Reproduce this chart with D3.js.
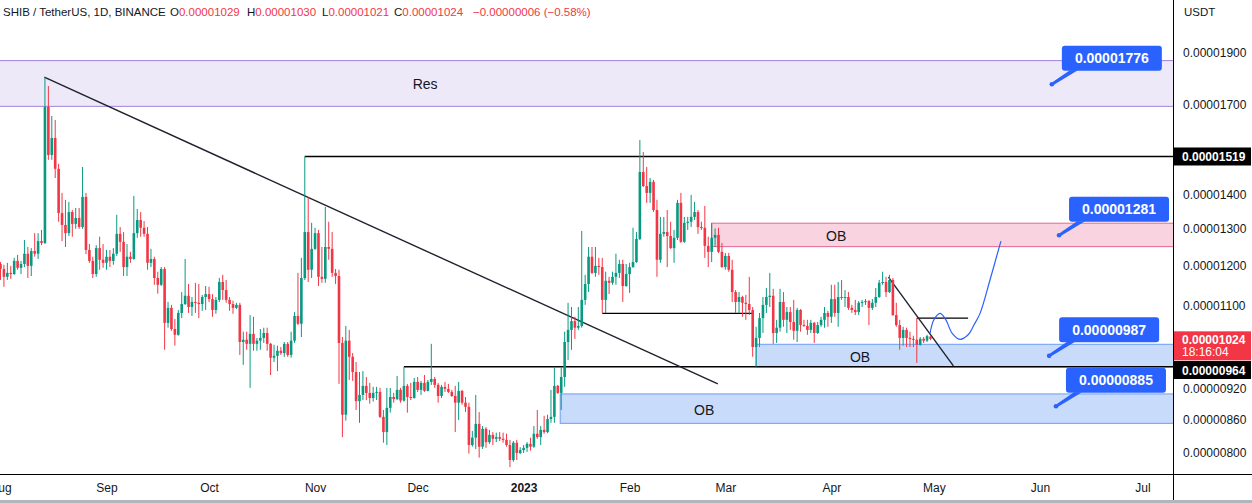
<!DOCTYPE html>
<html>
<head>
<meta charset="utf-8">
<script src="https://cdn.jsdelivr.net/npm/d3@7/dist/d3.min.js"></script>
<style>
html,body{margin:0;padding:0;background:#ffffff;overflow:hidden;}
svg{display:block;}
text{font-family:"Liberation Sans",Arial,sans-serif;}
</style>
</head>
<body>
<svg id="chart" width="1252" height="503"></svg>
<script>
// ---------------- DATA (prices in units of 0.00000001 USDT) ----------------
const UNIT = 1e-8;
const firstDay = "2022-08-01";
const openP = [
1204,1191,1171,1181,1178,1212,1194,1204,1231,1199,
1238,1231,1265,1260,1691,1524,1581,1479,1344,1310,
1287,1347,1313,1330,1304,1392,1241,1212,1178,1246,
1215,1207,1223,1212,1231,1285,1263,1196,1223,1217,
1287,1324,1302,1285,1207,1217,1168,1151,1191,1060,
1095,1046,1033,1083,1104,1124,1097,1109,1107,1104,
1121,1128,1116,1090,1114,1158,1138,1114,1104,1095,
1102,1017,1022,1013,1035,1013,1020,1026,1037,1013,
983,987,998,993,1013,989,1020,1076,1058,1168,
1290,1189,1244,1287,1171,1166,1249,1244,1181,1173,
1015,869,1020,985,953,895,907,925,911,901,
911,913,865,837,882,903,899,917,896,925,
903,901,933,917,931,915,933,939,927,905,
923,919,913,905,892,915,892,884,814,827,
852,811,843,819,832,825,828,825,823,814,
788,818,800,805,809,816,811,834,828,841,
837,861,865,925,911,943,1017,1044,1064,1049,
1053,1114,1153,1223,1181,1199,1196,1114,1161,1156,
1171,1181,1204,1148,1178,1196,1209,1271,1469,1425,
1404,1438,1353,1215,1285,1290,1279,1246,1274,1374,
1263,1316,1319,1333,1347,1304,1302,1252,1236,1274,
1282,1236,1196,1225,1189,1133,1109,1121,1107,1104,
1090,1006,1026,1071,1102,1121,1124,1037,1049,1109,
1067,1085,1062,1042,1090,1055,1053,1044,1060,1037,
1055,1067,1083,1074,1116,1083,1121,1119,1121,1095,
1090,1085,1107,1109,1111,1095,1107,1121,1156,1158,
1133,1163,1078,1055,1026,1044,1026,1024,1022,1011,
1024,1020,1029];
const highP = [
1209,1202,1207,1199,1220,1228,1212,1268,1249,1246,
1287,1287,1296,1804,1769,1658,1644,1495,1404,1383,
1377,1353,1359,1359,1485,1404,1257,1223,1254,1277,
1257,1241,1241,1246,1339,1304,1290,1257,1236,1395,
1356,1347,1321,1304,1244,1223,1184,1196,1196,1109,
1102,1069,1090,1133,1217,1153,1121,1156,1153,1126,
1148,1146,1128,1121,1168,1176,1163,1121,1112,1107,
1107,1040,1040,1078,1074,1026,1046,1049,1049,1015,
1011,1009,1006,1017,1017,1040,1085,1181,1220,1519,
1392,1316,1302,1296,1249,1362,1319,1290,1191,1189,
1028,1053,1044,993,974,953,955,943,931,923,
923,921,878,921,921,911,945,921,964,929,
931,941,943,935,947,937,1013,943,931,927,
933,929,917,925,933,917,903,892,839,907,
874,848,846,841,837,836,837,836,834,823,
821,823,810,814,819,827,848,878,848,867,
869,917,964,927,962,1040,1107,1097,1074,1097,
1293,1176,1249,1249,1249,1220,1220,1184,1171,1184,
1231,1215,1215,1204,1207,1302,1290,1574,1534,1485,
1450,1444,1383,1333,1333,1353,1319,1296,1383,1404,
1333,1333,1398,1377,1353,1319,1365,1277,1315,1300,
1302,1260,1233,1233,1215,1138,1133,1124,1126,1171,
1097,1051,1083,1121,1143,1181,1141,1067,1141,1133,
1097,1097,1114,1095,1092,1067,1067,1067,1062,1062,
1074,1097,1088,1151,1151,1158,1163,1138,1133,1102,
1114,1111,1114,1116,1114,1116,1143,1163,1184,1171,
1176,1168,1107,1067,1051,1049,1040,1031,1071,1028,
1028,1033,1030];
const lowP = [
1163,1146,1163,1166,1176,1189,1178,1196,1168,1173,
1223,1217,1254,1257,1508,1508,1450,1319,1265,1249,
1279,1277,1299,1299,1299,1230,1207,1168,1171,1189,
1194,1189,1196,1202,1225,1236,1173,1173,1207,1215,
1274,1277,1277,1189,1196,1151,1129,1148,1000,1049,
1042,1009,1031,1071,1102,1083,1076,1083,1071,1088,
1090,1109,1074,1081,1109,1114,1107,1088,1081,1092,
989,968,1000,921,998,998,1000,1015,998,947,
974,955,989,985,985,983,1015,1055,1028,1163,
1158,1168,1241,1148,1156,1156,1215,1171,1153,929,
828,858,937,935,878,854,897,897,890,894,
897,863,818,814,873,892,897,892,894,873,
897,900,913,907,913,914,927,921,892,901,
913,911,903,837,859,888,874,799,811,807,
792,807,809,816,814,819,821,818,811,776,
785,788,798,800,802,804,809,825,814,834,
835,854,854,909,878,923,978,1000,1024,1044,
1049,1102,1133,1178,1171,1176,1083,1083,1128,1151,
1151,1168,1109,1146,1131,1194,1207,1268,1422,1374,
1374,1347,1171,1207,1277,1196,1244,1207,1268,1260,
1260,1296,1304,1324,1285,1296,1220,1196,1209,1249,
1233,1194,1189,1184,1109,1083,1083,1074,1067,1078,
985,964,1006,1037,1083,1097,1013,1015,1040,1051,
1037,1044,1022,1017,1040,1051,1033,1037,1015,1035,
1051,1049,1051,1060,1074,1051,1114,1097,1090,1083,
1078,1078,1097,1102,1055,1090,1097,1119,1151,1121,
1131,1076,1051,1000,1009,1006,1006,1006,972,1009,
1015,1017,1021];
const closeP = [
1191,1171,1181,1178,1212,1194,1204,1231,1199,1238,
1231,1265,1260,1691,1524,1581,1479,1344,1310,1287,
1347,1313,1330,1304,1392,1241,1212,1178,1246,1215,
1207,1223,1212,1231,1285,1263,1196,1223,1217,1287,
1324,1302,1285,1207,1217,1168,1151,1191,1060,1095,
1046,1033,1083,1104,1124,1097,1109,1107,1104,1121,
1128,1116,1090,1114,1158,1138,1114,1104,1095,1102,
1017,1022,1013,1035,1013,1020,1026,1037,1013,983,
987,998,993,1013,989,1020,1076,1058,1168,1290,
1189,1244,1287,1171,1166,1249,1244,1181,1173,1015,
869,1020,985,953,895,907,925,911,901,911,
913,865,837,882,903,899,917,896,925,903,
901,933,917,931,915,933,939,927,905,923,
919,913,905,892,915,892,884,814,827,852,
811,843,819,832,825,828,825,823,814,788,
818,800,805,809,816,811,834,828,841,837,
861,865,925,911,943,1017,1044,1064,1049,1053,
1114,1153,1223,1181,1199,1196,1114,1161,1156,1171,
1181,1204,1148,1178,1196,1209,1271,1469,1425,1404,
1438,1353,1215,1285,1290,1279,1246,1274,1374,1263,
1316,1319,1333,1347,1304,1302,1252,1236,1274,1282,
1236,1196,1225,1189,1133,1109,1121,1107,1104,1090,
1006,1026,1071,1102,1121,1124,1037,1049,1109,1067,
1085,1062,1042,1090,1055,1053,1044,1060,1037,1055,
1067,1083,1074,1116,1083,1121,1119,1121,1095,1090,
1085,1107,1109,1111,1095,1107,1121,1156,1158,1133,
1163,1078,1055,1026,1044,1026,1024,1022,1011,1024,
1020,1030,1024];

const priceTicks = [1900, 1700, 1400, 1300, 1200, 1100, 920, 860, 800];
const monthTicks = ["2022-08-01","2022-09-01","2022-10-01","2022-11-01","2022-12-01","2023-01-01",
                    "2023-02-01","2023-03-01","2023-04-01","2023-05-01","2023-06-01","2023-07-01"];
const monthLabels = ["Aug","Sep","Oct","Nov","Dec","2023","Feb","Mar","Apr","May","Jun","Jul"];

// drawings: day offsets from firstDay, prices in the same unit
const zoneNames = ["Res", "OB", "OB", "OB"];
const zoneStartDay = [-5, 208, 221, 163.7];
const zoneLow = [1693, 1250, 964, 853];
const zoneHigh = [1869, 1315, 1012, 909];
const zoneLabelDay = [124.2, 244.4, 251.4, 205.8];

const levelPrice = [1519, 964, 1082, 1071];
const levelFromDay = [89, 118, 176, 268];
const levelToDay = [400, 400, 220, 283];

const trendStart = [[12.8, 1803], [259.7, 1170]];
const trendEnd = [[209.8, 929], [278.7, 966]];

const projDay = [271.9, 273.0, 274.8, 276.5, 278.3, 280.6, 283.0, 284.7, 286.5, 289.4, 292.6];
const projPrice = [1037, 1067, 1082, 1067, 1037, 1023, 1033, 1055, 1082, 1163, 1265];

const calloutPrice = [1776, 1281, 987, 885];
const calloutDay = [307.5, 309.6, 306.7, 308.7];

const scaleMarkers = [1519, 964];
const countdown = "18:16:04";
const title = "SHIB / TetherUS, 1D, BINANCE";

// ---------------- CHART ----------------
const W = 1252, H = 503, plotW = 1173, plotH = 474;
const GREEN = "#089981", RED = "#f23645", INK = "#131722", BLUE = "#2962ff";
const DAY = 864e5;
const t0 = new Date(firstDay + "T00:00:00Z").getTime();
const dayDate = d => new Date(t0 + d * DAY);
const x = d3.scaleUtc().domain([dayDate(-0.146), dayDate(342.93)]).range([0, plotW]);
const y = d3.scaleLog().domain([800, 1900]).range([453, 53]);
const X = d => x(dayDate(d));
const fmt = v => (v * UNIT).toFixed(8);

const svg = d3.select("#chart");
svg.append("rect").attr("width", W).attr("height", H).attr("fill", "#fff");
svg.append("defs").append("clipPath").attr("id", "clip")
  .append("rect").attr("width", plotW).attr("height", plotH);
const plot = svg.append("g").attr("clip-path", "url(#clip)");

// zones
const zoneFill = ["#ede9f8", "#f9d3e0", "#c9dbfa", "#c9dbfa"];
const zoneStroke = ["#a083dc", "#e06892", "#6d9ef4", "#6d9ef4"];
const zi = d3.range(zoneNames.length);
plot.selectAll("rect.zone").data(zi).join("rect").attr("class", "zone")
  .attr("x", i => X(zoneStartDay[i])).attr("y", i => y(zoneHigh[i]))
  .attr("width", i => plotW + 10 - X(zoneStartDay[i]))
  .attr("height", i => y(zoneLow[i]) - y(zoneHigh[i]))
  .attr("fill", i => zoneFill[i]).attr("stroke", i => zoneStroke[i]).attr("stroke-width", 1);
plot.selectAll("text.zone").data(zi).join("text").attr("class", "zone")
  .attr("x", i => X(zoneLabelDay[i])).attr("y", i => (y(zoneLow[i]) + y(zoneHigh[i])) / 2 + 6)
  .attr("text-anchor", "middle").attr("font-size", 14).attr("fill", INK)
  .text(i => zoneNames[i]);

// horizontal levels
plot.selectAll("line.level").data(d3.range(levelPrice.length)).join("line").attr("class", "level")
  .attr("x1", i => X(levelFromDay[i])).attr("x2", i => X(levelToDay[i]))
  .attr("y1", i => y(levelPrice[i])).attr("y2", i => y(levelPrice[i]))
  .attr("stroke", "#000").attr("stroke-width", 1.4);

// trend lines
plot.selectAll("line.trend").data(d3.range(trendStart.length)).join("line").attr("class", "trend")
  .attr("x1", i => X(trendStart[i][0])).attr("y1", i => y(trendStart[i][1]))
  .attr("x2", i => X(trendEnd[i][0])).attr("y2", i => y(trendEnd[i][1]))
  .attr("stroke", "#1e222d").attr("stroke-width", 1.4);

// candles
const idx = d3.range(closeP.length);
const col = i => closeP[i] >= openP[i] ? GREEN : RED;
plot.selectAll("line.wick").data(idx).join("line").attr("class", "wick")
  .attr("x1", i => X(i)).attr("x2", i => X(i))
  .attr("y1", i => y(highP[i])).attr("y2", i => y(lowP[i]))
  .attr("stroke", col).attr("stroke-width", 1);
plot.selectAll("rect.body").data(idx).join("rect").attr("class", "body")
  .attr("x", i => X(i) - 1.3).attr("width", 2.6)
  .attr("y", i => y(Math.max(openP[i], closeP[i])))
  .attr("height", i => Math.max(1, Math.abs(y(openP[i]) - y(closeP[i]))))
  .attr("fill", col);

// projected path
plot.append("path").datum(d3.range(projDay.length))
  .attr("d", d3.line().x(i => X(projDay[i])).y(i => y(projPrice[i])).curve(d3.curveCatmullRom.alpha(0.5)))
  .attr("fill", "none").attr("stroke", BLUE).attr("stroke-width", 1.2);

// price callouts
const co = plot.append("g");
calloutPrice.forEach((p, i) => {
  const cx = X(calloutDay[i]), cy = y(p);
  co.append("path")
    .attr("d", `M${cx + 0.5},${cy - 2} L${cx + 18},${cy - 14} L${cx + 26},${cy - 14} L${cx + 2},${cy + 0.5} Z`)
    .attr("fill", BLUE);
  co.append("circle").attr("cx", cx).attr("cy", cy).attr("r", 2.3).attr("fill", BLUE);
  co.append("rect").attr("x", cx + 10).attr("y", cy - 38.5).attr("width", 100).attr("height", 25)
    .attr("rx", 3).attr("fill", BLUE);
  co.append("text").attr("x", cx + 60).attr("y", cy - 21)
    .attr("text-anchor", "middle").attr("font-size", 14).attr("font-weight", "bold").attr("fill", "#fff")
    .text(fmt(p));
});

// ---------- price scale ----------
svg.append("rect").attr("x", plotW).attr("y", 0).attr("width", W - plotW).attr("height", H).attr("fill", "#fff");
const ya = svg.append("g").attr("transform", `translate(${plotW},0)`)
  .call(d3.axisRight(y).tickValues(priceTicks).tickFormat(fmt).tickSize(0).tickPadding(10));
ya.select(".domain").remove();
ya.selectAll("text").attr("font-size", 12).attr("fill", INK).attr("font-family", "Liberation Sans, Arial, sans-serif");
svg.append("text").attr("x", 1184).attr("y", 16).attr("font-size", 11.5).attr("fill", INK).text("USDT");

// black markers
const boxX = plotW + 1;
const markerTop = [y(scaleMarkers[0]) - 9, 361];
scaleMarkers.forEach((p, i) => {
  svg.append("rect").attr("x", boxX).attr("y", markerTop[i]).attr("width", W - boxX - 1).attr("height", 18).attr("fill", "#000");
  svg.append("text").attr("x", 1182).attr("y", markerTop[i] + 13.5).attr("font-size", 12).attr("font-weight", "bold")
    .attr("fill", "#fff").text(fmt(p));
});
// last price marker
const last = closeP.length - 1;
const lastCol = closeP[last] >= openP[last] ? GREEN : RED;
const lpTop = y(closeP[last]) - 7.5;
svg.append("rect").attr("x", boxX).attr("y", lpTop).attr("width", W - boxX - 1).attr("height", 29).attr("fill", lastCol);
svg.append("text").attr("x", 1182).attr("y", lpTop + 12.5).attr("font-size", 12).attr("font-weight", "bold")
  .attr("fill", "#fff").text(fmt(closeP[last]));
svg.append("text").attr("x", 1182).attr("y", lpTop + 25).attr("font-size", 12)
  .attr("fill", "#fff").text(countdown);

// ---------- time scale ----------
const xa = svg.append("g").attr("transform", `translate(0,${plotH})`)
  .call(d3.axisBottom(x).tickValues(monthTicks.map(s => new Date(s + "T00:00:00Z")))
    .tickFormat((d, i) => monthLabels[i]).tickSize(0).tickPadding(9));
xa.select(".domain").remove();
xa.selectAll("text").attr("font-size", 12).attr("fill", INK).attr("font-family", "Liberation Sans, Arial, sans-serif")
  .attr("font-weight", (d, i) => monthLabels[i] === "2023" ? "bold" : "normal");

// frame lines
svg.append("line").attr("x1", plotW + 0.5).attr("x2", plotW + 0.5).attr("y1", 0).attr("y2", H).attr("stroke", "#000");
svg.append("line").attr("x1", 0).attr("x2", W).attr("y1", plotH + 0.5).attr("y2", plotH + 0.5).attr("stroke", "#000");
svg.append("rect").attr("x", 0).attr("y", 500).attr("width", W).attr("height", 3).attr("fill", "#b2b5be");

// ---------- legend ----------
const change = closeP[last] - closeP[last - 1];
const pct = change / closeP[last - 1] * 100;
const minus = v => (v < 0 ? "\u2212" : "+");
const lg = svg.append("text").attr("y", 16).attr("font-size", 11.5).attr("fill", INK);
lg.append("tspan").attr("x", 3).text(title);
[["O", openP[last], 170], ["H", highP[last], 247], ["L", lowP[last], 322], ["C", closeP[last], 394]]
  .forEach(([k, v, px]) => {
    lg.append("tspan").attr("x", px).attr("fill", INK).text(k);
    lg.append("tspan").attr("fill", lastCol).text(fmt(v));
  });
lg.append("tspan").attr("x", 473).attr("fill", lastCol)
  .text(`${minus(change)}${fmt(Math.abs(change))} (${minus(change)}${Math.abs(pct).toFixed(2)}%)`);
</script>
</body>
</html>
